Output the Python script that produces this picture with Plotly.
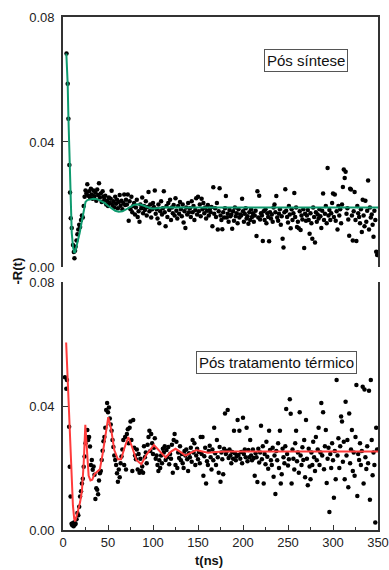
import plotly.graph_objects as go

# ---------------- top panel: "Pós síntese" ----------------
top_t_early = [3.9, 5.2, 6.0, 7.1, 7.8, 8.6, 9.7, 11.1, 12.0, 12.7, 13.4]
top_r_early = [0.0683, 0.0586, 0.0474, 0.0326, 0.0238, 0.0156, 0.0125, 0.0070, 0.0048, 0.0028, 0.0052]

top_seg_starts = [14, 26, 46, 71, 101, 141, 175, 221, 271, 311]
top_r_a = [0.0065, 0.0085, 0.0105, 0.0120, 0.0135, 0.0128, 0.0150, 0.0165, 0.0158, 0.0195, 0.0225, 0.0245]
top_r_b = [0.0235, 0.0265, 0.0228, 0.0242, 0.0222, 0.0250, 0.0232, 0.0218, 0.0245, 0.0226,
           0.0238, 0.0212, 0.0248, 0.0230, 0.0268, 0.0222, 0.0235, 0.0208, 0.0242, 0.0225]
top_r_c = [0.0215, 0.0228, 0.0200, 0.0212, 0.0195, 0.0222, 0.0205, 0.0218, 0.0244, 0.0198,
           0.0210, 0.0190, 0.0225, 0.0202, 0.0215, 0.0188, 0.0208, 0.0230, 0.0196, 0.0212,
           0.0185, 0.0205, 0.0232, 0.0198, 0.0215]
top_r_d = [0.0200, 0.0232, 0.0148, 0.0210, 0.0185, 0.0225, 0.0175, 0.0195, 0.0205, 0.0168,
           0.0190, 0.0215, 0.0160, 0.0178, 0.0145, 0.0200, 0.0188, 0.0222, 0.0172, 0.0195,
           0.0182, 0.0210, 0.0165, 0.0192, 0.0240, 0.0178, 0.0200, 0.0158, 0.0185, 0.0205]
top_r_e = [0.0192, 0.0245, 0.0170, 0.0185, 0.0155, 0.0200, 0.0140, 0.0178, 0.0210, 0.0168,
           0.0188, 0.0242, 0.0175, 0.0130, 0.0195, 0.0160, 0.0205, 0.0182, 0.0215, 0.0150,
           0.0190, 0.0172, 0.0198, 0.0165, 0.0220, 0.0180, 0.0155, 0.0195, 0.0170, 0.0208,
           0.0185, 0.0162, 0.0200, 0.0142, 0.0178, 0.0125, 0.0190, 0.0168, 0.0205, 0.0175]
top_r_f = [0.0188, 0.0160, 0.0210, 0.0175, 0.0195, 0.0150, 0.0182, 0.0220, 0.0168, 0.0225,
           0.0178, 0.0200, 0.0162, 0.0218, 0.0185, 0.0205, 0.0172, 0.0190, 0.0155, 0.0180,
           0.0198, 0.0165, 0.0185, 0.0175, 0.0192, 0.0130, 0.0255, 0.0170, 0.0188, 0.0160,
           0.0205, 0.0120, 0.0178, 0.0252]
top_r_g = [0.0165, 0.0150, 0.0121, 0.0175, 0.0158, 0.0188, 0.0227, 0.0158, 0.0170, 0.0145,
           0.0182, 0.0162, 0.0168, 0.0122, 0.0178, 0.0148, 0.0190, 0.0162, 0.0172, 0.0140,
           0.0185, 0.0158, 0.0168, 0.0165, 0.0218, 0.0178, 0.0145, 0.0170, 0.0188, 0.0155,
           0.0162, 0.0138, 0.0175, 0.0150, 0.0185, 0.0160, 0.0172, 0.0145, 0.0165, 0.0180,
           0.0099, 0.0242, 0.0158, 0.0228, 0.0152, 0.0172]
top_r_h = [0.0165, 0.0083, 0.0178, 0.0150, 0.0185, 0.0140, 0.0172, 0.0160, 0.0082, 0.0175,
           0.0155, 0.0168, 0.0145, 0.0190, 0.0200, 0.0175, 0.0227, 0.0158, 0.0148, 0.0170,
           0.0185, 0.0135, 0.0162, 0.0090, 0.0062, 0.0175, 0.0249, 0.0180, 0.0160, 0.0142,
           0.0195, 0.0168, 0.0124, 0.0185, 0.0150, 0.0172, 0.0237, 0.0160, 0.0190, 0.0128,
           0.0145, 0.0124, 0.0178, 0.0118, 0.0165, 0.0152, 0.0185, 0.0061, 0.0170, 0.0148]
top_r_i = [0.0165, 0.0182, 0.0150, 0.0106, 0.0172, 0.0140, 0.0090, 0.0190, 0.0160, 0.0078,
           0.0175, 0.0145, 0.0168, 0.0155, 0.0185, 0.0162, 0.0125, 0.0180, 0.0235, 0.0150,
           0.0170, 0.0195, 0.0140, 0.0317, 0.0165, 0.0182, 0.0150, 0.0172, 0.0205, 0.0235,
           0.0160, 0.0232, 0.0148, 0.0178, 0.0120, 0.0195, 0.0165, 0.0185, 0.0140, 0.0200]
top_r_j = [0.0256, 0.0312, 0.0285, 0.0305, 0.0170, 0.0188, 0.0152, 0.0100, 0.0250, 0.0248,
           0.0165, 0.0085, 0.0178, 0.0240, 0.0150, 0.0083, 0.0195, 0.0172, 0.0160, 0.0140,
           0.0185, 0.0112, 0.0215, 0.0165, 0.0130, 0.0212, 0.0145, 0.0180, 0.0277, 0.0120,
           0.0190, 0.0158, 0.0168, 0.0135, 0.0097, 0.0180, 0.0150, 0.0049, 0.0038]

top_fit_t = [3.7, 5.2, 6.0, 7.1, 7.8, 8.6, 9.7, 11.1, 12.5, 13.5, 15, 16.5, 18.5, 20.5, 22.5, 25,
             27, 30, 34, 38, 42, 46, 50, 54, 58, 62, 66, 70, 74, 78, 82, 86, 90, 94, 98, 102,
             106, 110, 115, 120, 130, 150, 200, 350]
top_fit_r = [0.0683, 0.0586, 0.0480, 0.0340, 0.0250, 0.0170, 0.0110, 0.0065, 0.0045, 0.0048,
             0.0065, 0.0082, 0.0109, 0.0140, 0.0176, 0.0208, 0.0214, 0.0216, 0.0218, 0.0217,
             0.0212, 0.0205, 0.0196, 0.0187, 0.0180, 0.0177, 0.0178, 0.0184, 0.0192, 0.0198,
             0.0201, 0.0200, 0.0196, 0.0191, 0.0187, 0.0187, 0.0189, 0.0190, 0.0191, 0.0190,
             0.0190, 0.0190, 0.0190, 0.0190]

# ---------------- bottom panel: "Pós tratamento térmico" ----------------
bot_t_early = [2.2, 3.7, 4.4, 6.8, 7.5, 8.4, 9.5, 10.3, 11.0, 11.8, 12.6, 13.3]
bot_r_early = [0.0493, 0.0456, 0.0484, 0.0333, 0.0204, 0.0108, 0.0020, 0.0015, 0.0022, 0.0012, 0.0025, 0.0018]

bot_seg_starts = [14, 46, 81, 121, 174, 221, 271, 311]
bot_r_a = [0.0020, 0.0035, 0.0055, 0.0048, 0.0075, 0.0108, 0.0125, 0.0150, 0.0165, 0.0204,
           0.0237, 0.0280, 0.0300, 0.0323, 0.0290, 0.0300, 0.0269, 0.0210, 0.0226, 0.0194,
           0.0205, 0.0178, 0.0100, 0.0135, 0.0130, 0.0115, 0.0160, 0.0183, 0.0190, 0.0226,
           0.0256, 0.0286]
bot_r_b = [0.0300, 0.0330, 0.0387, 0.0410, 0.0380, 0.0395, 0.0360, 0.0340, 0.0320, 0.0290,
           0.0268, 0.0240, 0.0226, 0.0210, 0.0183, 0.0156, 0.0195, 0.0170, 0.0215, 0.0237,
           0.0260, 0.0290, 0.0210, 0.0300, 0.0195, 0.0310, 0.0325, 0.0280, 0.0330, 0.0350,
           0.0290, 0.0190, 0.0355, 0.0265, 0.0240]
bot_r_c = [0.0228, 0.0260, 0.0195, 0.0245, 0.0185, 0.0230, 0.0190, 0.0205, 0.0185, 0.0270,
           0.0235, 0.0250, 0.0215, 0.0275, 0.0300, 0.0320, 0.0255, 0.0310, 0.0280, 0.0245,
           0.0265, 0.0296, 0.0230, 0.0240, 0.0210, 0.0190, 0.0225, 0.0200, 0.0240, 0.0215,
           0.0262, 0.0250, 0.0270, 0.0226, 0.0258, 0.0235, 0.0268, 0.0212, 0.0245, 0.0230]
bot_r_d = [0.0275, 0.0185, 0.0290, 0.0310, 0.0210, 0.0285, 0.0200, 0.0250, 0.0232, 0.0270,
           0.0225, 0.0245, 0.0215, 0.0200, 0.0255, 0.0240, 0.0260, 0.0228, 0.0190, 0.0248,
           0.0235, 0.0265, 0.0220, 0.0290, 0.0250, 0.0280, 0.0210, 0.0240, 0.0262, 0.0228,
           0.0252, 0.0215, 0.0300, 0.0245, 0.0300, 0.0175, 0.0238, 0.0265, 0.0150, 0.0222,
           0.0210, 0.0255, 0.0272, 0.0235, 0.0195, 0.0260, 0.0225, 0.0330, 0.0248, 0.0210,
           0.0290, 0.0235, 0.0185]
bot_r_e = [0.0268, 0.0156, 0.0250, 0.0228, 0.0180, 0.0262, 0.0376, 0.0245, 0.0255, 0.0387,
           0.0232, 0.0260, 0.0240, 0.0215, 0.0252, 0.0230, 0.0320, 0.0248, 0.0225, 0.0238,
           0.0355, 0.0242, 0.0320, 0.0230, 0.0252, 0.0215, 0.0362, 0.0245, 0.0260, 0.0235,
           0.0330, 0.0222, 0.0258, 0.0235, 0.0290, 0.0240, 0.0225, 0.0260, 0.0232, 0.0175,
           0.0248, 0.0235, 0.0155, 0.0262, 0.0218, 0.0250, 0.0336]
bot_r_f = [0.0228, 0.0270, 0.0150, 0.0245, 0.0212, 0.0285, 0.0236, 0.0198, 0.0320, 0.0258,
           0.0225, 0.0210, 0.0265, 0.0172, 0.0240, 0.0116, 0.0255, 0.0225, 0.0280, 0.0200,
           0.0320, 0.0150, 0.0180, 0.0262, 0.0235, 0.0215, 0.0270, 0.0390, 0.0245, 0.0208,
           0.0228, 0.0422, 0.0375, 0.0150, 0.0260, 0.0230, 0.0195, 0.0280, 0.0320, 0.0222,
           0.0250, 0.0185, 0.0380, 0.0240, 0.0210, 0.0267, 0.0226, 0.0290, 0.0170, 0.0355]
bot_r_g = [0.0230, 0.0144, 0.0262, 0.0205, 0.0164, 0.0250, 0.0210, 0.0285, 0.0235, 0.0190,
           0.0300, 0.0225, 0.0260, 0.0330, 0.0210, 0.0250, 0.0410, 0.0240, 0.0380, 0.0196,
           0.0270, 0.0323, 0.0152, 0.0230, 0.0265, 0.0058, 0.0245, 0.0200, 0.0280, 0.0225,
           0.0104, 0.0255, 0.0164, 0.0484, 0.0240, 0.0296, 0.0200, 0.0270, 0.0366, 0.0350]
bot_r_h = [0.0220, 0.0285, 0.0164, 0.0414, 0.0240, 0.0290, 0.0138, 0.0376, 0.0215, 0.0260,
           0.0323, 0.0190, 0.0250, 0.0175, 0.0300, 0.0468, 0.0110, 0.0245, 0.0226, 0.0280,
           0.0210, 0.0255, 0.0462, 0.0150, 0.0453, 0.0235, 0.0197, 0.0270, 0.0215, 0.0449,
           0.0098, 0.0484, 0.0290, 0.0177, 0.0250, 0.0210, 0.0024, 0.0330, 0.0260]

bot_fit_t = [3.5, 5.0, 6.5, 8.0, 9.5, 11.0, 12.5, 13.5, 16.5, 19.0, 21.0, 23.0, 24.8, 26.5,
             28.5, 30.5, 32.5, 35.0, 38.0, 41.0, 44.0, 47.0, 50.3, 53.5, 57.0, 61.0, 64.5,
             68.0, 72.5, 76.5, 81.5, 87.0, 92.5, 101.0, 107.5, 114.0, 120.0, 125.0, 130.0,
             136.0, 142.0, 148.0, 155.0, 161.0, 170.0, 180.0, 350.0]
bot_fit_r = [0.0605, 0.0500, 0.0380, 0.0260, 0.0160, 0.0080, 0.0035, 0.0028, 0.0060, 0.0090,
             0.0125, 0.0215, 0.0339, 0.0255, 0.0175, 0.0160, 0.0162, 0.0180, 0.0188, 0.0196,
             0.0245, 0.0310, 0.0364, 0.0325, 0.0258, 0.0228, 0.0228, 0.0262, 0.0300, 0.0270,
             0.0226, 0.0212, 0.0242, 0.0274, 0.0253, 0.0234, 0.0253, 0.0262, 0.0253, 0.0240,
             0.0249, 0.0258, 0.0253, 0.0249, 0.0252, 0.0253, 0.0253]

# ---------------- axes ticks ----------------
x_range = [0, 350]
y_range = [0, 0.08]
y_tickvals = [0, 0.04, 0.08]
y_ticktext = ["0.00", "0.04", "0.08"]


def build(early_t, early_r, starts, segs):
    t = list(early_t)
    r = list(early_r)
    for s, seg in zip(starts, segs):
        t += list(range(s, s + len(seg)))
        r += list(seg)
    return t, r


top_t, top_r = build(top_t_early, top_r_early, top_seg_starts,
                     [top_r_a, top_r_b, top_r_c, top_r_d, top_r_e, top_r_f, top_r_g,
                      top_r_h, top_r_i, top_r_j])
bot_t, bot_r = build(bot_t_early, bot_r_early, bot_seg_starts,
                     [bot_r_a, bot_r_b, bot_r_c, bot_r_d, bot_r_e, bot_r_f, bot_r_g, bot_r_h])

GREEN = "#0e9a6e"
RED = "#ff3b3b"
AX = "#333333"

fig = go.Figure()
fig.add_trace(go.Scatter(x=top_t, y=top_r, mode="markers", xaxis="x2", yaxis="y2",
                         marker=dict(color="black", size=4.5), showlegend=False))
fig.add_trace(go.Scatter(x=top_fit_t, y=top_fit_r, mode="lines", xaxis="x2", yaxis="y2",
                         line=dict(color=GREEN, width=2), showlegend=False))
fig.add_trace(go.Scatter(x=bot_t, y=bot_r, mode="markers", xaxis="x", yaxis="y",
                         marker=dict(color="black", size=4.5), showlegend=False))
fig.add_trace(go.Scatter(x=bot_fit_t, y=bot_fit_r, mode="lines", xaxis="x", yaxis="y",
                         line=dict(color=RED, width=2), showlegend=False))

yax = dict(range=y_range, tickvals=y_tickvals, ticktext=y_ticktext, ticks="inside",
           ticklen=5, tickwidth=1.2, tickcolor=AX, showline=True, linecolor=AX,
           linewidth=1.6, mirror=True, showgrid=False, zeroline=False,
           ticklabelstandoff=4, automargin=False)

fig.update_layout(
    width=389, height=570,
    margin=dict(l=63, r=11, t=17, b=40),
    paper_bgcolor="white", plot_bgcolor="white",
    font=dict(family="Arial, Liberation Sans, sans-serif", size=13, color="#222"),
    xaxis=dict(domain=[0, 1], anchor="y", range=x_range, dtick=50, tick0=0,
               ticks="inside", ticklen=5, tickwidth=1.2, tickcolor=AX,
               minor=dict(dtick=25, tick0=0, ticks="inside", ticklen=3, tickwidth=1,
                          tickcolor=AX),
               showline=True, linecolor=AX, linewidth=1.6, showgrid=False, zeroline=False,
               automargin=False),
    xaxis2=dict(domain=[0, 1], anchor="y2", range=x_range, matches="x", side="top",
                showticklabels=False, ticks="", showline=True, linecolor=AX,
                linewidth=1.6, showgrid=False, zeroline=False, automargin=False),
    yaxis=dict(domain=[0, 0.4834], anchor="x", **yax),
    yaxis2=dict(domain=[0.5127, 1], anchor="x2", **yax),
    annotations=[
        dict(text="Pós síntese", xref="paper", yref="paper", x=0.771, y=0.915,
             xanchor="center", yanchor="middle",
             showarrow=False, font=dict(size=15, color="#111"), bordercolor="#555",
             borderwidth=1, borderpad=2, bgcolor="white"),
        dict(text="Pós tratamento térmico", xref="paper", yref="paper", x=0.679, y=0.3265,
             xanchor="center", yanchor="middle",
             showarrow=False, font=dict(size=15, color="#111"), bordercolor="#555",
             borderwidth=1, borderpad=2, bgcolor="white"),
        dict(text="<b>-R(t)</b>", xref="paper", yref="paper", x=-0.1444, y=0.5049,
             xanchor="center", yanchor="middle",
             textangle=-90, showarrow=False, font=dict(size=13, color="#111")),
        dict(text="<b>t(ns)</b>", xref="paper", yref="paper", x=0.463, y=-0.0604,
             xanchor="center", yanchor="middle",
             showarrow=False, font=dict(size=13, color="#111")),
    ],
)

# remove the default 8px page margin so the 389x570 figure fills the window exactly
fig.write_html("out.html",
               config={"displayModeBar": False},
               post_script="document.body.style.margin='0';"
                           "document.body.style.overflow='hidden';")
